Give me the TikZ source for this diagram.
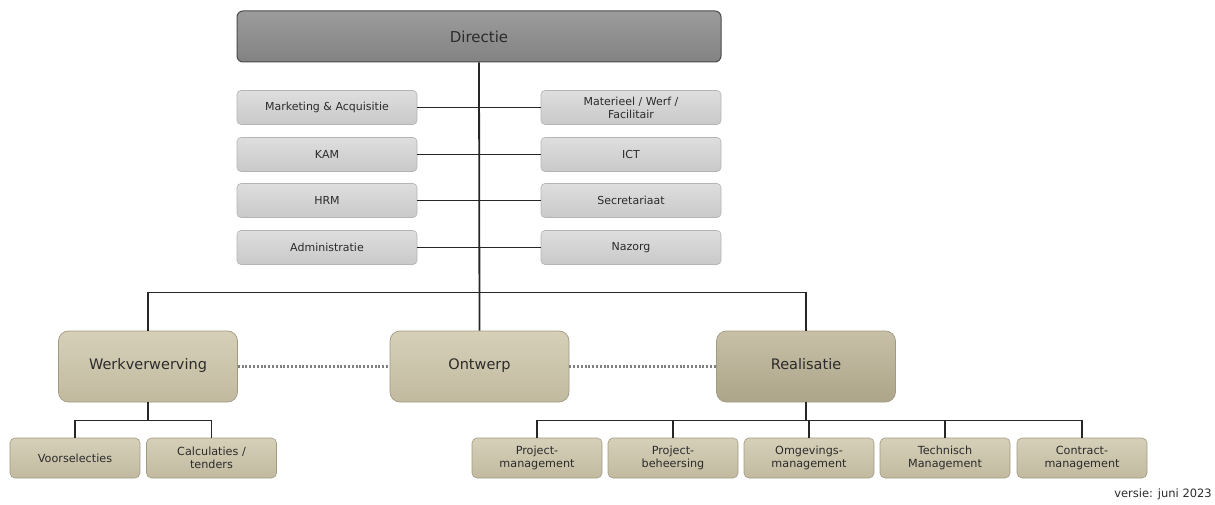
\documentclass[tikz,border=0pt]{standalone}
\usepackage{fontspec}
\setmainfont{DejaVu Sans}
\usepackage{xcolor}
\usetikzlibrary{positioning, calc}
\definecolor{dirtop}{HTML}{9C9C9C}
\definecolor{dirbot}{HTML}{828282}
\definecolor{dirline}{HTML}{4A4A4A}
\definecolor{stafftop}{HTML}{DEDEDE}
\definecolor{staffbot}{HTML}{C9C9C9}
\definecolor{staffline}{HTML}{B4B4B4}
\definecolor{khakitop}{HTML}{D6D0B9}
\definecolor{khakibot}{HTML}{C1BA9F}
\definecolor{realtop}{HTML}{C7C0A6}
\definecolor{realbot}{HTML}{ACA58A}
\definecolor{khakiline}{HTML}{A09A82}
\definecolor{txt}{HTML}{2B2B2B}

\begin{document}
\begin{tikzpicture}[
    x=1pt, y=-1pt,
    dirbox/.style={rectangle, draw=dirline, line width=1pt, rounded corners=6pt, top color=dirtop, bottom color=dirbot, minimum width=484pt, minimum height=51pt, font=\fontsize{15}{18}\selectfont, text=txt},
    staffbox/.style={rectangle, draw=staffline, line width=0.6pt, rounded corners=4pt, top color=stafftop, bottom color=staffbot, minimum width=180pt, minimum height=34pt, inner sep=0pt, align=center, font=\fontsize{11}{13}\selectfont, text=txt},
    mainbox/.style={rectangle, draw=khakiline, line width=0.7pt, rounded corners=10pt, top color=khakitop, bottom color=khakibot, minimum width=179pt, minimum height=71pt, text height=1.45ex, text depth=0.3ex, font=\fontsize{14.5}{17}\selectfont, text=txt},
    subbox/.style={rectangle, draw=khakiline, line width=0.6pt, rounded corners=5pt, top color=khakitop, bottom color=khakibot, minimum width=130pt, minimum height=40pt, inner sep=0pt, align=center, font=\fontsize{11.2}{13.5}\selectfont, text=txt},
    link/.style={draw=black!85, line width=1.1pt},
    dotlink/.style={draw=black!50, line width=2.2pt, dash pattern=on 2pt off 1.8pt}
]
\useasboundingbox (0,0) rectangle (1215,505);

% directie en staf
\node[dirbox] (dir) at (479,36.5) {Directie};
\node[staffbox] (mkt) at (327,107.5) {Marketing \& Acquisitie};
\node[staffbox] (kam) at (327,154.5) {KAM};
\node[staffbox] (hrm) at (327,200.5) {HRM};
\node[staffbox] (adm) at (327,247.5) {Administratie};
\node[staffbox] (mat) at (631,107.5) {Materieel / Werf /\\Facilitair};
\node[staffbox] (ict) at (631,154.5) {ICT};
\node[staffbox] (sec) at (631,200.5) {Secretariaat};
\node[staffbox] (naz) at (631,247.5) {Nazorg};

% hoofdafdelingen
\node[mainbox] (wv) at (148,366.5) {Werkverwerving};
\node[mainbox] (ont) at (479.5,366.5) {Ontwerp};
\node[mainbox, top color=realtop, bottom color=realbot] (rl) at (806,366.5) {Realisatie};

% onderafdelingen
\node[subbox] (vs) at (75,458) {Voorselecties};
\node[subbox] (ct) at (211.5,458) {Calculaties /\\tenders};
\node[subbox] (pm) at (537,458) {Project-\\management};
\node[subbox] (pb) at (673,458) {Project-\\beheersing};
\node[subbox] (og) at (809,458) {Omgevings-\\management};
\node[subbox] (tm) at (945,458) {Technisch\\Management};
\node[subbox] (cm) at (1082,458) {Contract-\\management};

\node[anchor=east, inner sep=0pt, font=\fontsize{11.5}{13}\selectfont, text=txt] (versie) at (1212,494) {versie: juni 2023};

\coordinate (bar) at (479,292.5);
\coordinate (wvfork) at (148,420.5);
\coordinate (rlfork) at (806,420.5);

% verbindingen
\foreach \l/\r in {mkt/mat, kam/ict, hrm/sec, adm/naz}
    \draw[link] (\l.east) -- (\r.west);
\draw[link, line width=1.8pt] (dir.south) -- (ont.north);
\draw[link] (wv.north) |- (bar) -| (rl.north);
\draw[dotlink] (wv.east) -- (ont.west);
\draw[dotlink] (ont.east) -- (rl.west);

\draw[link] (wv.south) -- (wvfork);
\draw[link] (vs.north) |- (wvfork) -| (ct.north);
\draw[link] (rl.south) -- (rlfork);
\draw[link] (pm.north) |- (rlfork) -| (cm.north);
\foreach \n in {pb, og, tm}
    \draw[link] (\n.north) -- (\n.north |- rlfork);
\end{tikzpicture}
\end{document}
